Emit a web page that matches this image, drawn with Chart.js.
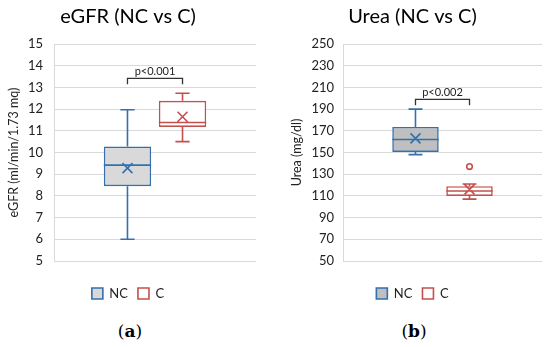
<!DOCTYPE html>
<html>
<head>
<meta charset="utf-8">
<script src="https://cdn.jsdelivr.net/npm/chart.js@4.4.0/dist/chart.umd.min.js"></script>
<style>
  body { margin: 0; background: #fff; }
  #wrap { position: relative; width: 550px; height: 347px; }
  .panel { position: absolute; top: 0; width: 275px; height: 310px; }
  .cap { position: absolute; top: 321px; width: 60px; text-align: center;
         font-family: "DejaVu Serif", "Liberation Serif", serif; font-size: 17px; color: #000; }
</style>
</head>
<body>
<div id="wrap">
  <div class="panel" style="left:0"><canvas id="egfrChart" width="275" height="310"></canvas></div>
  <div class="panel" style="left:275px"><canvas id="ureaChart" width="275" height="310"></canvas></div>
  <div class="cap" style="left:100px">(<b>a</b>)</div>
  <div class="cap" style="left:384px">(<b>b</b>)</div>
</div>
<script>
// groups (one box per group)
const groups = ['NC', 'C'];

// eGFR (ml/min/1.73 mq)
const egfrMin = [6.0, 10.5];
const egfrQ1 = [8.45, 11.18];
const egfrMedian = [9.42, 11.38];
const egfrQ3 = [10.28, 12.38];
const egfrMax = [11.97, 12.73];
const egfrMean = [9.28, 11.65];
const egfrOutliers = [[], []];
const egfrTicks = [5, 6, 7, 8, 9, 10, 11, 12, 13, 14, 15];
const egfrBracket = 13.42;
const egfrP = 'p<0.001';

// Urea (mg/dl)
const ureaMin = [148, 107];
const ureaQ1 = [150.5, 110];
const ureaMedian = [162, 114.5];
const ureaQ3 = [173.5, 119];
const ureaMax = [190, 121];
const ureaMean = [163, 116];
const ureaOutliers = [[], [137]];
const ureaTicks = [50, 70, 90, 110, 130, 150, 170, 190, 210, 230, 250];
const ureaBracket = 199;
const ureaP = 'p<0.002';

const FONT = 'Lato, "Open Sans", sans-serif';
const BLUE = '#3470ad';
const RED = '#c4504e';

// whiskers, median, mean cross, outliers and the significance bracket
const boxParts = {
    id: 'boxParts',
    afterDatasetsDraw(chart, args, opts) {
        const ctx = chart.ctx;
        const y = chart.scales.y;
        const xs = [];
        chart.data.datasets.forEach((ds, i) => {
            const bar = chart.getDatasetMeta(i).data[0];
            const x = bar.x, half = bar.width / 2, cap = bar.width * 0.15;
            xs.push(x);
            const yMin = y.getPixelForValue(opts.min[i]);
            const yQ1 = y.getPixelForValue(opts.q1[i]);
            const yMed = y.getPixelForValue(opts.median[i]);
            const yQ3 = y.getPixelForValue(opts.q3[i]);
            const yMax = y.getPixelForValue(opts.max[i]);
            const yMean = y.getPixelForValue(opts.mean[i]);
            ctx.save();
            ctx.strokeStyle = ds.borderColor;
            ctx.lineWidth = 1.6;
            ctx.beginPath();
            ctx.moveTo(x, yQ3); ctx.lineTo(x, yMax);
            ctx.moveTo(x - cap, yMax); ctx.lineTo(x + cap, yMax);
            ctx.moveTo(x, yQ1); ctx.lineTo(x, yMin);
            ctx.moveTo(x - cap, yMin); ctx.lineTo(x + cap, yMin);
            ctx.moveTo(x - half, yMed); ctx.lineTo(x + half, yMed);
            const m = 5;
            ctx.moveTo(x - m, yMean - m); ctx.lineTo(x + m, yMean + m);
            ctx.moveTo(x + m, yMean - m); ctx.lineTo(x - m, yMean + m);
            ctx.stroke();
            opts.outliers[i].forEach(v => {
                ctx.beginPath();
                ctx.arc(x, y.getPixelForValue(v), 2.8, 0, Math.PI * 2);
                ctx.stroke();
            });
            ctx.restore();
        });

        // bracket
        const yb = y.getPixelForValue(opts.bracket);
        ctx.save();
        ctx.strokeStyle = '#333';
        ctx.lineWidth = 1.3;
        ctx.beginPath();
        ctx.moveTo(xs[0], yb + 6); ctx.lineTo(xs[0], yb);
        ctx.lineTo(xs[1], yb); ctx.lineTo(xs[1], yb + 6);
        ctx.stroke();
        ctx.fillStyle = '#222';
        ctx.font = '11px ' + FONT;
        ctx.textAlign = 'center';
        ctx.textBaseline = 'bottom';
        ctx.fillText(opts.pText, (xs[0] + xs[1]) / 2, yb - 1);
        ctx.restore();
    }
};

function makeBoxChart(id, cfg) {
    const fills = [cfg.ncFill, '#ffffff'];
    const lines = [BLUE, RED];
    const datasets = groups.map((g, i) => ({
        label: g,
        data: [[cfg.q1[i], cfg.q3[i]]],
        backgroundColor: fills[i],
        borderColor: lines[i],
        borderWidth: 1.6,
        borderSkipped: false,
        categoryPercentage: cfg.catPct,
        barPercentage: 0.86
    }));
    const ticks = cfg.ticks;
    return new Chart(document.getElementById(id), {
        type: 'bar',
        data: { labels: [''], datasets: datasets },
        options: {
            responsive: false,
            animation: false,
            layout: { padding: { left: cfg.padLeft, right: cfg.padRight, top: 0, bottom: 0 } },
            plugins: {
                title: {
                    display: true, text: cfg.title, color: '#000',
                    font: { family: FONT, size: 20, weight: 'normal' },
                    padding: { top: 5, bottom: 15 }
                },
                legend: {
                    position: 'bottom',
                    labels: {
                        boxWidth: 11, boxHeight: 11, padding: 10, color: '#222',
                        font: { family: FONT, size: 13 }
                    }
                },
                tooltip: { enabled: false },
                boxParts: {
                    min: cfg.min, q1: cfg.q1, median: cfg.median, q3: cfg.q3,
                    max: cfg.max, mean: cfg.mean, outliers: cfg.outliers,
                    bracket: cfg.bracket, pText: cfg.pText
                }
            },
            scales: {
                x: {
                    grid: { display: false }, border: { display: false },
                    ticks: { display: false },
                    afterFit(s) { s.height = 16; }
                },
                y: {
                    min: ticks[0], max: ticks[ticks.length - 1],
                    ticks: {
                        stepSize: ticks[1] - ticks[0], color: '#222', padding: cfg.tickPad,
                        font: { family: FONT, size: 13 }
                    },
                    grid: { color: '#d9d9d9', drawTicks: false },
                    border: { color: '#d9d9d9' },
                    title: {
                        display: true, text: cfg.yTitle, color: '#222',
                        font: { family: FONT, size: 12.5 }, padding: { top: 6, bottom: 0 }
                    },
                    afterFit(s) { s.width = cfg.yWidth; }
                }
            }
        },
        plugins: [boxParts]
    });
}

makeBoxChart('egfrChart', {
    title: 'eGFR (NC vs C)', yTitle: 'eGFR (ml/min/1.73 mq)',
    min: egfrMin, q1: egfrQ1, median: egfrMedian, q3: egfrQ3, max: egfrMax,
    mean: egfrMean, outliers: egfrOutliers, ticks: egfrTicks,
    bracket: egfrBracket, pText: egfrP,
    ncFill: '#d9d9d9', catPct: 0.545,
    padLeft: 0, padRight: 19, yWidth: 54, tickPad: 11
});

makeBoxChart('ureaChart', {
    title: 'Urea (NC vs C)', yTitle: 'Urea (mg/dl)',
    min: ureaMin, q1: ureaQ1, median: ureaMedian, q3: ureaQ3, max: ureaMax,
    mean: ureaMean, outliers: ureaOutliers, ticks: ureaTicks,
    bracket: ureaBracket, pText: ureaP,
    ncFill: '#bfbfbf', catPct: 0.543,
    padLeft: 8, padRight: 8, yWidth: 60, tickPad: 9
});
</script>
</body>
</html>
